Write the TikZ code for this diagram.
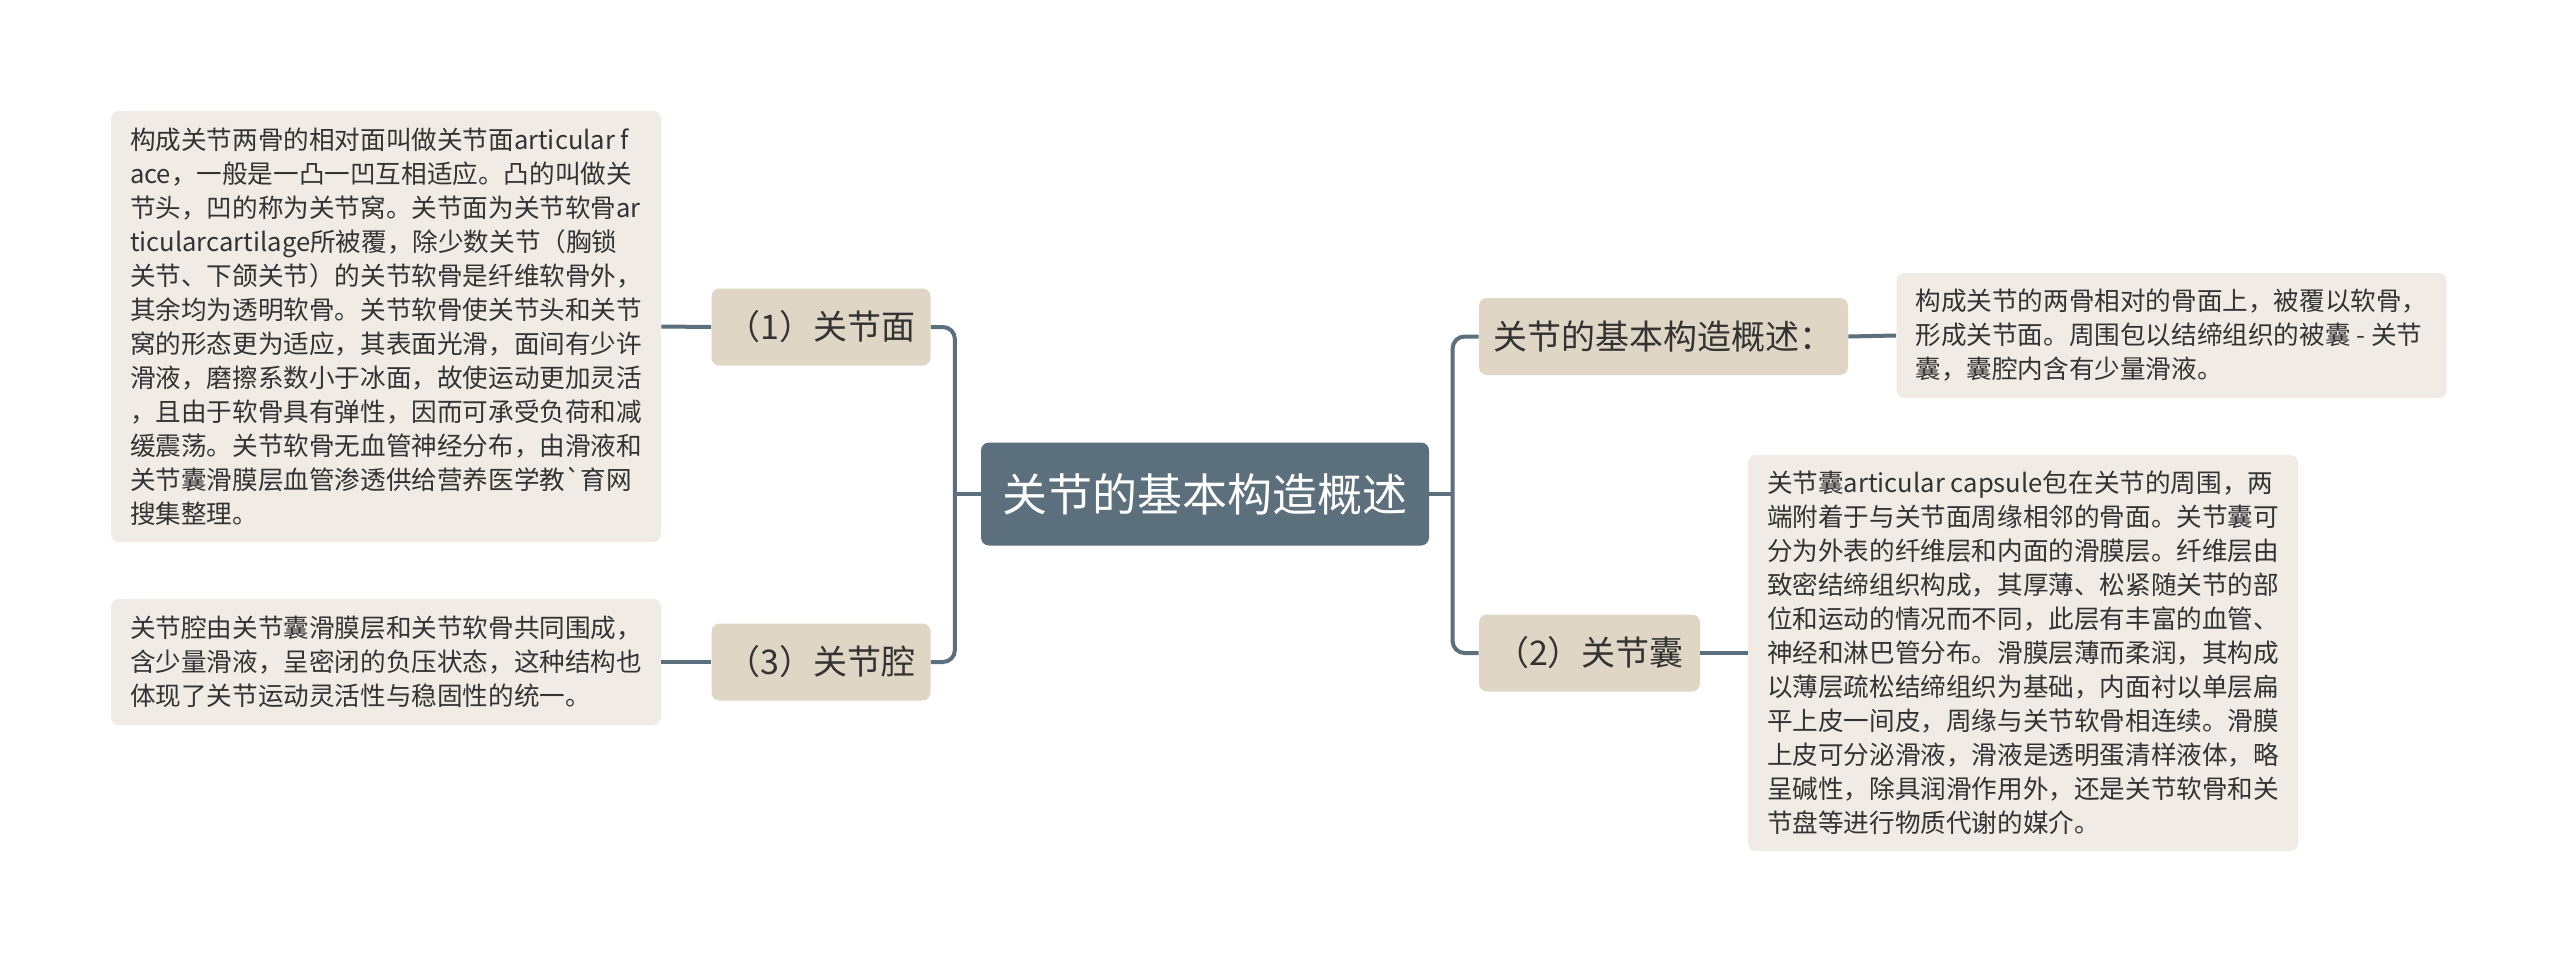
\documentclass[tikz,border=0pt]{standalone}
\usepackage{fontspec}
\setmainfont{Noto Sans CJK SC}
\usepackage{xcolor}
\usepackage{tikz}
\definecolor{myslate}{HTML}{5C6F7C}
\definecolor{mytan}{HTML}{E0D6C6}
\definecolor{mycream}{HTML}{F0ECE5}
\definecolor{myink}{HTML}{333333}
\tikzstyle{root} = [rectangle, rounded corners=4pt, fill=myslate, text=white, font=\fontsize{22.5}{27}\selectfont, minimum width=224pt, minimum height=51.5pt]
\tikzstyle{branch} = [rectangle, rounded corners=4pt, fill=mytan, text=myink, font=\fontsize{17}{20}\selectfont, minimum height=38.5pt]
\tikzstyle{leaf} = [rectangle, rounded corners=4pt, fill=mycream, text=myink, align=left, font=\fontsize{12.8}{17}\selectfont, minimum width=275pt]
\tikzstyle{conn} = [draw=myslate, line width=2pt]

\begin{document}
\begin{tikzpicture}[x=0.5pt, y=-0.5pt]
    \fill[white] (0,0) rectangle (2560,964);
    \node[root] (root) at (1205,494) {关节的基本构造概述};
    % left side
    \node[branch, minimum width=109.5pt] (face) at (821,327) {（1）关节面};
    \node[branch, minimum width=109.5pt] (cavity) at (821,662) {（3）关节腔};
    \node[leaf, minimum height=215.5pt] (facetxt) at (386,326.5) {构成关节两骨的相对面叫做关节面articular f\\ ace，一般是一凸一凹互相适应。凸的叫做关\\ 节头，凹的称为关节窝。关节面为关节软骨ar\\ ticularcartilage所被覆，除少数关节（胸锁\\ 关节、下颌关节）的关节软骨是纤维软骨外，\\ 其余均为透明软骨。关节软骨使关节头和关节\\ 窝的形态更为适应，其表面光滑，面间有少许\\ 滑液，磨擦系数小于冰面，故使运动更加灵活\\ ，且由于软骨具有弹性，因而可承受负荷和减\\ 缓震荡。关节软骨无血管神经分布，由滑液和\\ 关节囊滑膜层血管渗透供给营养医学教\textasciigrave 育网\\ 搜集整理。};
    \node[leaf, minimum height=63pt] (cavitytxt) at (386,662) {关节腔由关节囊滑膜层和关节软骨共同围成，\\ 含少量滑液，呈密闭的负压状态，这种结构也\\ 体现了关节运动灵活性与稳固性的统一。};
    % right side
    \node[branch, minimum width=184.5pt] (intro) at (1663.5,336.5) {关节的基本构造概述：};
    \node[branch, minimum width=110.5pt] (capsule) at (1589.5,653) {（2）关节囊};
    \node[leaf, minimum height=62.5pt] (introtxt) at (2171.5,335.5) {构成关节的两骨相对的骨面上，被覆以软骨，\\ 形成关节面。周围包以结缔组织的被囊 - 关节\\ 囊，囊腔内含有少量滑液。};
    \node[leaf, minimum height=198pt] (capsuletxt) at (2023,653) {关节囊articular capsule包在关节的周围，两\\ 端附着于与关节面周缘相邻的骨面。关节囊可\\ 分为外表的纤维层和内面的滑膜层。纤维层由\\ 致密结缔组织构成，其厚薄、松紧随关节的部\\ 位和运动的情况而不同，此层有丰富的血管、\\ 神经和淋巴管分布。滑膜层薄而柔润，其构成\\ 以薄层疏松结缔组织为基础，内面衬以单层扁\\ 平上皮一间皮，周缘与关节软骨相连续。滑膜\\ 上皮可分泌滑液，滑液是透明蛋清样液体，略\\ 呈碱性，除具润滑作用外，还是关节软骨和关\\ 节盘等进行物质代谢的媒介。};
    % connectors
    \draw[conn] (root.west) -- ++(-26,0);
    \draw[conn, rounded corners=6pt] (face.east) -- ++(24,0) |- (cavity.east);
    \draw[conn] (root.east) -- ++(24,0);
    \draw[conn, rounded corners=6pt] (intro.west) -- ++(-26,0) |- (capsule.west);
    \draw[conn] (face.west) -- (facetxt.east);
    \draw[conn] (cavity.west) -- (cavitytxt.east);
    \draw[conn] (intro.east) -- (introtxt.west);
    \draw[conn] (capsule.east) -- (capsuletxt.west);
\end{tikzpicture}
\end{document}
